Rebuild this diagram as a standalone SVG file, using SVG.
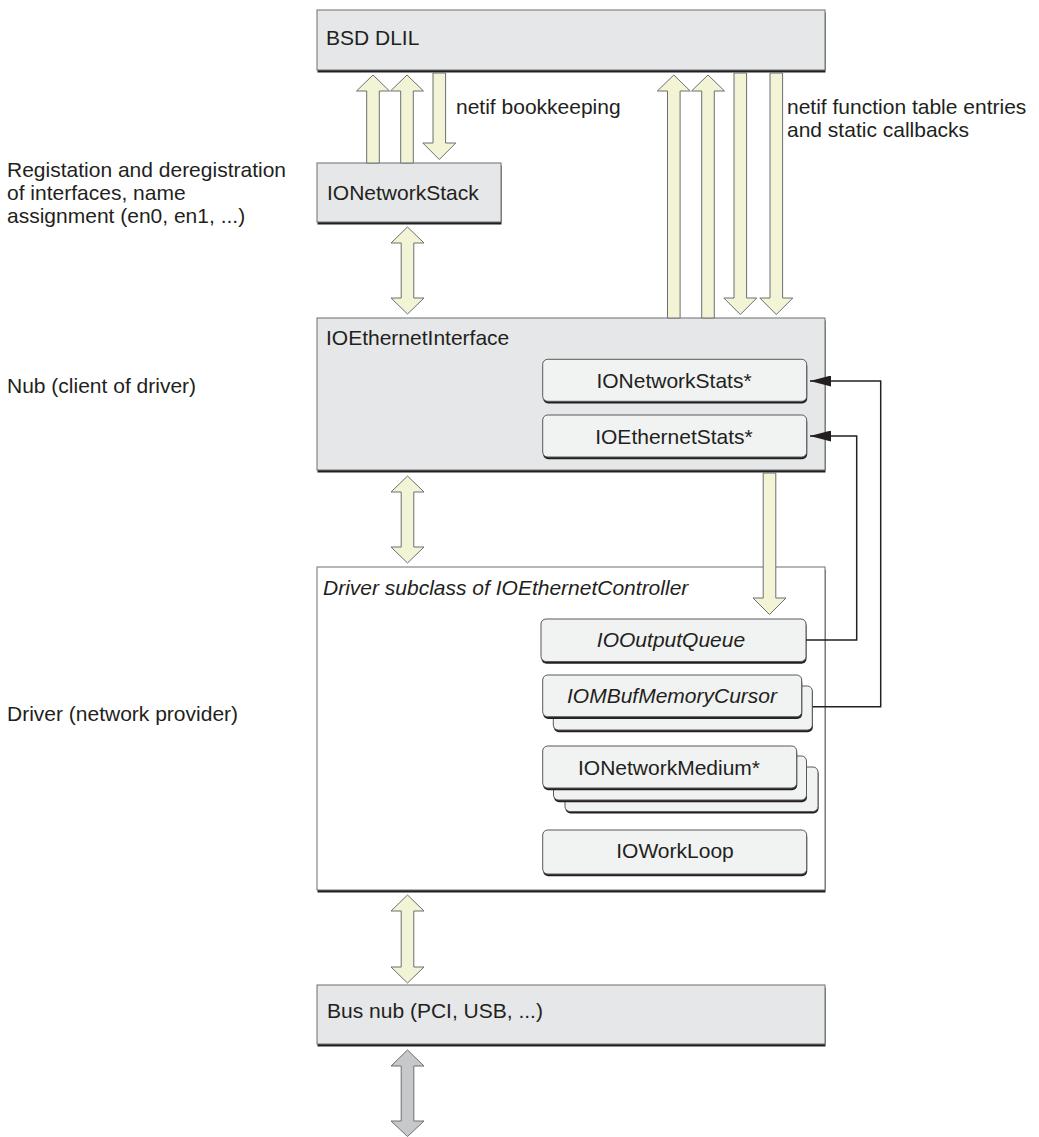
<svg xmlns="http://www.w3.org/2000/svg" width="1039" height="1137" viewBox="0 0 1039 1137">
<style>
text { font-family: "Liberation Sans", Arial, Helvetica, sans-serif; font-size: 21px; fill: #231f20; }
.it { font-style: italic; }
.mid { text-anchor: middle; }
.box { fill: #e6e7e8; stroke: #6d6e71; stroke-width: 1; }
.wbox { fill: #ffffff; stroke: #6d6e71; stroke-width: 1; }
.sub { fill: #f1f2f2; stroke: #58595b; stroke-width: 1; }
.shadow { fill: #231f20; }
.barrow { fill: #f3f3d6; stroke: #6d6e71; stroke-width: 1; }
.garrow { fill: #c7c8ca; stroke: #6d6e71; stroke-width: 1; }
.conn { fill: none; stroke: #231f20; stroke-width: 1.5; }
</style>
<defs>
<marker id="ah" viewBox="0 0 21 11" refX="21" refY="5.5" markerWidth="21" markerHeight="11" markerUnits="userSpaceOnUse" orient="auto">
<path d="M0,0 L21,5.5 L0,11 Z" fill="#231f20"/>
</marker>
</defs>

<rect width="1039" height="1137" fill="#ffffff"/>

<!-- side labels -->
<g id="labels">
<text x="7" y="177">Registation and deregistration</text>
<text x="7" y="200">of interfaces, name</text>
<text x="7" y="223">assignment (en0, en1, ...)</text>
<text x="7" y="393">Nub (client of driver)</text>
<text x="7" y="721">Driver (network provider)</text>
<text x="456" y="114">netif bookkeeping</text>
<text x="787" y="114">netif function table entries</text>
<text x="787" y="137">and static callbacks</text>
</g>

<g id="bsd-dlil">
<rect class="shadow" x="317.5" y="12.5" width="508" height="60"/>
<rect class="box" x="317" y="10" width="508" height="60"/>
<text x="326" y="45">BSD DLIL</text>
</g>

<g id="io-network-stack">
<rect class="shadow" x="317.5" y="165.5" width="184" height="59"/>
<rect class="box" x="317" y="163" width="184" height="59"/>
<text x="327" y="200">IONetworkStack</text>
</g>

<g id="io-ethernet-interface">
<rect class="shadow" x="317.5" y="320.5" width="508" height="152"/>
<rect class="box" x="317" y="318" width="508" height="152"/>
<text x="326" y="345">IOEthernetInterface</text>
</g>

<g id="io-network-stats">
<rect class="shadow" x="543.2" y="361.5" width="264" height="42" rx="5"/>
<rect class="sub" x="542.7" y="359.3" width="264" height="42" rx="5"/>
<text class="mid" x="674" y="388">IONetworkStats*</text>
</g>

<g id="io-ethernet-stats">
<rect class="shadow" x="543.2" y="417.2" width="264" height="42" rx="5"/>
<rect class="sub" x="542.7" y="415" width="264" height="42" rx="5"/>
<text class="mid" x="674" y="444">IOEthernetStats*</text>
</g>

<g id="driver">
<rect class="shadow" x="317.5" y="569.5" width="508" height="323"/>
<rect class="wbox" x="317" y="567" width="508" height="323"/>
<text class="it" x="323" y="595">Driver subclass of IOEthernetController</text>
</g>

<g id="io-output-queue">
<rect class="shadow" x="541.5" y="621.2" width="265" height="42.5" rx="5"/>
<rect class="sub" x="541" y="619" width="265" height="42.5" rx="5"/>
<text class="mid it" x="671" y="647">IOOutputQueue</text>
</g>

<g id="io-mbuf-memory-cursor">
<rect class="shadow" x="553.8" y="688.2" width="259" height="44" rx="5"/>
<rect class="sub" x="553.3" y="686" width="259" height="44" rx="5"/>
<rect class="shadow" x="543.2" y="677.2" width="259" height="41.7" rx="5"/>
<rect class="sub" x="542.7" y="675" width="259" height="41.7" rx="5"/>
<text class="mid it" x="672" y="703">IOMBufMemoryCursor</text>
</g>

<g id="io-network-medium">
<rect class="shadow" x="565.5" y="769" width="253" height="44.5" rx="5"/>
<rect class="sub" x="565" y="767" width="253" height="44.5" rx="5"/>
<rect class="shadow" x="554" y="758.2" width="253" height="44" rx="5"/>
<rect class="sub" x="553.5" y="756" width="253" height="44" rx="5"/>
<rect class="shadow" x="543.2" y="748.2" width="254" height="42" rx="5"/>
<rect class="sub" x="542.7" y="746" width="254" height="42" rx="5"/>
<text class="mid" x="669" y="775">IONetworkMedium*</text>
</g>

<g id="io-work-loop">
<rect class="shadow" x="543.2" y="832.2" width="264" height="44" rx="5"/>
<rect class="sub" x="542.7" y="830" width="264" height="44" rx="5"/>
<text class="mid" x="675" y="858">IOWorkLoop</text>
</g>

<g id="bus-nub">
<rect class="shadow" x="317.5" y="987.5" width="508" height="59"/>
<rect class="box" x="317" y="985" width="508" height="59"/>
<text x="327" y="1018">Bus nub (PCI, USB, ...)</text>
</g>

<g id="connectors">
<path class="barrow" d="M373,75 L389.5,91 L379.3,91 L379.3,163 L366.7,163 L366.7,91 L356.5,91 Z"/>
<path class="barrow" d="M407,75 L423.5,91 L413.3,91 L413.3,163 L400.7,163 L400.7,91 L390.5,91 Z"/>
<path class="barrow" d="M433,73 L445.6,73 L445.6,143 L455.8,143 L439.3,159.5 L422.8,143 L433,143 Z"/>
<path class="barrow" d="M407.5,227 L424,243 L413.8,243 L413.8,298 L424,298 L407.5,314 L391,298 L401.2,298 L401.2,243 L391,243 Z"/>
<path class="barrow" d="M673.8,75 L690.3,91 L680.1,91 L680.1,318 L667.5,318 L667.5,91 L657.3,91 Z"/>
<path class="barrow" d="M708,75 L724.5,91 L714.3,91 L714.3,318 L701.7,318 L701.7,91 L691.5,91 Z"/>
<path class="barrow" d="M734,73 L746.6,73 L746.6,298 L756.8,298 L740.3,314.5 L723.8,298 L734,298 Z"/>
<path class="barrow" d="M770,73 L782.6,73 L782.6,298 L792.8,298 L776.3,314.5 L759.8,298 L770,298 Z"/>
<path class="barrow" d="M407.5,476 L424,492 L413.8,492 L413.8,547 L424,547 L407.5,563 L391,547 L401.2,547 L401.2,492 L391,492 Z"/>
<path class="barrow" d="M763.2,473 L775.8,473 L775.8,598 L786,598 L769.5,614.5 L753,598 L763.2,598 Z"/>
<path class="barrow" d="M407.5,895 L424,911 L413.8,911 L413.8,967 L424,967 L407.5,983 L391,967 L401.2,967 L401.2,911 L391,911 Z"/>
<path class="garrow" d="M407.5,1050 L424,1066 L413.8,1066 L413.8,1121 L424,1121 L407.5,1136.5 L391,1121 L401.2,1121 L401.2,1066 L391,1066 Z"/>
<path class="conn" d="M812.7,706.7 L880.7,706.7 L880.7,381 L810,381" marker-end="url(#ah)"/>
<path class="conn" d="M806,640 L856.7,640 L856.7,436 L810,436" marker-end="url(#ah)"/>
</g>
</svg>
